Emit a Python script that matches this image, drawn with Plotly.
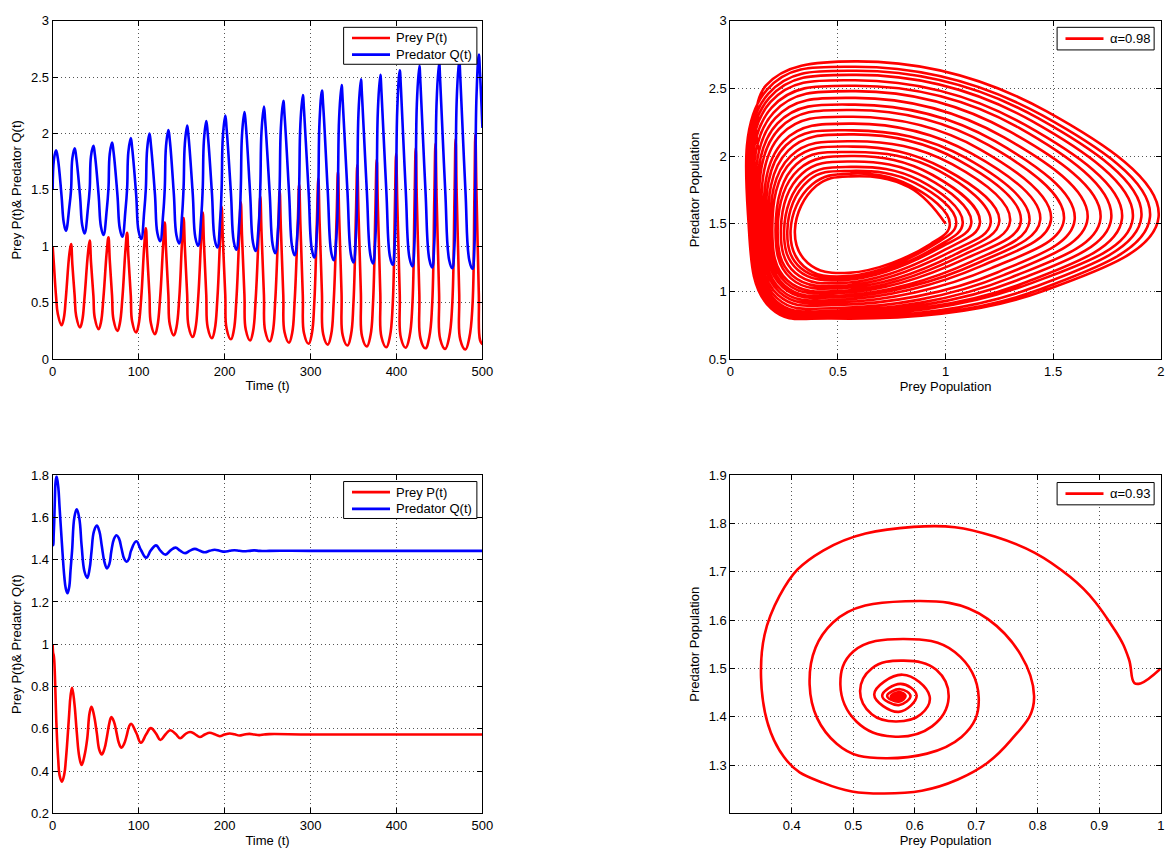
import plotly.graph_objects as go

# ---------------------------------------------------------------------------
# alpha = 0.98 : sustained (slowly growing) prey-predator oscillations.
# Each cycle is described by eight characteristic states, in time order:
# prey peak, NE shoulder, predator peak, NW shoulder, prey trough,
# SW corner, predator trough, SE shoulder.
# ---------------------------------------------------------------------------
t_prey_peak = [0.0, 21.4, 43.1, 64.9, 86.6, 108.4, 130.4, 152.3, 174.6, 196.6, 218.9,
               241.6, 264.1, 286.8, 309.1, 331.9, 354.4, 377.0, 399.6, 422.4, 445.4,
               468.8, 491.8]
prey_peak = [1.00, 1.02, 1.05, 1.08, 1.12, 1.16, 1.21, 1.25, 1.30, 1.35, 1.39,
             1.44, 1.49, 1.55, 1.60, 1.66, 1.72, 1.77, 1.82, 1.87, 1.91, 1.95, 1.99]
pred_at_prey_peak = [1.50, 1.50, 1.51, 1.51, 1.51, 1.51, 1.51, 1.52, 1.52, 1.52, 1.52,
                     1.53, 1.53, 1.53, 1.53, 1.54, 1.54, 1.54, 1.54, 1.54, 1.55, 1.55, 1.55]

t_ne = [1.5, 22.9, 44.6, 66.4, 88.1, 109.9, 131.9, 153.8, 176.0, 198.0, 220.3,
        243.0, 265.5, 288.2, 310.5, 333.3, 355.8, 378.4, 401.0, 423.7, 446.7,
        470.1, 493.1]
prey_ne = [0.83, 0.84, 0.86, 0.88, 0.91, 0.94, 0.97, 0.99, 1.03, 1.06, 1.09,
           1.12, 1.16, 1.20, 1.23, 1.27, 1.30, 1.34, 1.37, 1.40, 1.43, 1.45, 1.47]
pred_ne = [1.77, 1.78, 1.80, 1.82, 1.84, 1.86, 1.89, 1.91, 1.94, 1.97, 1.99,
           2.02, 2.05, 2.08, 2.11, 2.14, 2.18, 2.21, 2.23, 2.26, 2.28, 2.30, 2.33]

t_pred_peak = [3.9, 25.6, 47.4, 69.1, 90.9, 112.6, 134.6, 156.5, 178.7, 200.8, 223.1,
               245.8, 268.3, 291.0, 313.3, 336.1, 358.6, 381.2, 403.8, 426.6, 449.6,
               473.0, 495.8]
prey_at_pred_peak = [0.56, 0.56, 0.56, 0.56, 0.56, 0.57, 0.57, 0.57, 0.57, 0.57, 0.57,
                     0.57, 0.57, 0.57, 0.58, 0.58, 0.58, 0.58, 0.58, 0.58, 0.58, 0.58, 0.58]
pred_peak = [1.85, 1.87, 1.89, 1.92, 1.96, 2.00, 2.03, 2.07, 2.11, 2.16, 2.19,
             2.24, 2.29, 2.34, 2.38, 2.43, 2.48, 2.52, 2.56, 2.60, 2.63, 2.66, 2.70]

t_nw = [6.0, 27.4, 49.0, 70.8, 92.5, 114.3, 136.3, 158.1, 180.4, 202.4, 224.7,
        247.3, 269.8, 292.5, 314.8, 337.5, 360.0, 382.6, 405.2, 428.0, 450.9,
        474.3, 497.3]
prey_nw = [0.400, 0.380, 0.364, 0.349, 0.333, 0.317, 0.307, 0.291, 0.280, 0.269, 0.259,
           0.248, 0.237, 0.226, 0.218, 0.209, 0.200, 0.193, 0.187, 0.181, 0.176, 0.170,
           0.165]
pred_nw = [1.78, 1.79, 1.82, 1.84, 1.87, 1.90, 1.94, 1.97, 2.00, 2.04, 2.08,
           2.11, 2.16, 2.20, 2.24, 2.28, 2.32, 2.36, 2.40, 2.43, 2.46, 2.49, 2.52]

t_prey_trough = [10.3, 31.8, 53.5, 75.4, 97.1, 119.0, 141.0, 163.0, 185.3, 207.4, 229.7,
                 252.5, 275.0, 297.8, 320.1, 343.0, 365.5, 388.2, 410.8, 433.7, 456.7, 480.2]
prey_trough = [0.30, 0.28, 0.265, 0.25, 0.235, 0.22, 0.21, 0.195, 0.185, 0.175, 0.165,
               0.155, 0.145, 0.135, 0.128, 0.12, 0.112, 0.105, 0.10, 0.095, 0.09, 0.085]
pred_at_prey_trough = [1.45, 1.45, 1.45, 1.45, 1.46, 1.46, 1.46, 1.46, 1.47, 1.47, 1.47,
                       1.47, 1.48, 1.48, 1.48, 1.48, 1.49, 1.49, 1.49, 1.50, 1.50, 1.50]

t_sw = [12.9, 34.4, 56.2, 78.1, 99.9, 121.8, 144.0, 166.0, 188.5, 210.7, 233.1,
        256.0, 278.6, 301.5, 324.0, 347.0, 369.7, 392.4, 415.2, 438.2, 461.3, 484.8]
prey_sw = [0.360, 0.341, 0.327, 0.314, 0.301, 0.288, 0.280, 0.267, 0.259, 0.252, 0.244,
           0.236, 0.229, 0.222, 0.217, 0.212, 0.206, 0.202, 0.199, 0.196, 0.193, 0.190]
pred_sw = [1.210, 1.186, 1.173, 1.158, 1.137, 1.117, 1.098, 1.078, 1.063, 1.043, 1.031,
           1.011, 0.993, 0.973, 0.950, 0.930, 0.921, 0.909, 0.895, 0.886, 0.878, 0.873]

t_pred_trough = [15.4, 37.1, 59.1, 81.1, 103.0, 125.0, 147.2, 169.2, 191.6, 213.7, 236.1,
                 258.9, 281.5, 304.4, 326.9, 349.9, 372.7, 395.6, 418.5, 441.5, 464.8, 488.4]
prey_at_pred_trough = [0.55, 0.55, 0.55, 0.54, 0.54, 0.54, 0.53, 0.53, 0.53, 0.52, 0.52,
                       0.51, 0.51, 0.50, 0.50, 0.49, 0.49, 0.48, 0.48, 0.48, 0.47, 0.47]
pred_trough = [1.137, 1.113, 1.100, 1.085, 1.064, 1.044, 1.025, 1.005, 0.990, 0.970, 0.958,
               0.938, 0.920, 0.900, 0.877, 0.857, 0.848, 0.836, 0.822, 0.813, 0.805, 0.800]

t_se = [19.4, 41.1, 63.0, 84.7, 106.5, 128.6, 150.5, 172.8, 194.9, 217.2, 239.9,
        262.5, 285.2, 307.5, 330.4, 352.9, 375.5, 398.2, 421.0, 444.0, 467.5, 490.7]
prey_se = [0.93, 0.94, 0.96, 0.97, 1.00, 1.02, 1.04, 1.07, 1.09, 1.12, 1.15,
           1.17, 1.21, 1.24, 1.27, 1.30, 1.33, 1.36, 1.38, 1.41, 1.43, 1.45]
pred_se = [1.35, 1.34, 1.33, 1.32, 1.31, 1.29, 1.27, 1.26, 1.24, 1.22, 1.21,
           1.19, 1.17, 1.14, 1.12, 1.10, 1.08, 1.06, 1.05, 1.03, 1.01, 1.00]

# state at the end of the run
t_end = [500.0]
prey_end = [0.13]
pred_end = [2.05]

# ---------------------------------------------------------------------------
# alpha = 0.93 : damped oscillations spiralling into the coexistence point
# ---------------------------------------------------------------------------
t_damped = [0.0, 0.3, 0.6, 1.2, 1.8, 2.6, 3.5, 4.6, 6.5, 8.0, 10.7, 13.6, 15.3, 17.2,
            19.2, 20.8, 22.6,
            25.3, 28.0, 31.0, 33.7, 37.0, 40.2, 43.0, 45.2,
            48.0, 51.3, 54.3, 57.1, 60.2, 63.2, 66.0, 68.2,
            71.2, 74.3, 77.2, 80.1, 83.2, 86.2, 88.8, 91.2,
            97.3, 102.7, 108.8, 114.2,
            120.3, 125.3, 131.4, 136.8,
            142.9, 148.3, 154.0, 159.8,
            165.5, 171.3, 177.0, 182.8,
            188.5, 194.3, 200.0, 206.0,
            211.5, 217.3, 223.0, 229.0,
            234.5, 240.3, 246.0, 252.0,
            300.0, 400.0, 500.0]
prey_damped = [1.0, 0.967, 0.957, 0.948, 0.925, 0.852, 0.73, 0.598, 0.451, 0.38, 0.35,
               0.387, 0.451, 0.55, 0.67, 0.756, 0.794,
               0.719, 0.585, 0.467, 0.429, 0.473, 0.553, 0.676, 0.704,
               0.665, 0.582, 0.50, 0.479, 0.505, 0.564, 0.628, 0.655,
               0.635, 0.582, 0.53, 0.511, 0.53, 0.569, 0.61, 0.624,
               0.58, 0.534, 0.574, 0.603,
               0.577, 0.547, 0.574, 0.593,
               0.576, 0.555, 0.574, 0.585,
               0.575, 0.561, 0.573, 0.581,
               0.574, 0.565, 0.573, 0.578,
               0.574, 0.568, 0.573, 0.576,
               0.573, 0.570, 0.573, 0.575,
               0.573, 0.573, 0.573]
pred_damped = [1.5, 1.469, 1.470, 1.52, 1.58, 1.69, 1.773, 1.793, 1.744, 1.65, 1.48,
               1.317, 1.263, 1.241, 1.27, 1.351, 1.443,
               1.602, 1.639, 1.595, 1.466, 1.344, 1.314, 1.358, 1.439,
               1.534, 1.561, 1.535, 1.466, 1.39, 1.359, 1.38, 1.439,
               1.497, 1.516, 1.50, 1.453, 1.405, 1.39, 1.405, 1.443,
               1.487, 1.446, 1.41, 1.444,
               1.468, 1.443, 1.424, 1.443,
               1.457, 1.443, 1.431, 1.443,
               1.451, 1.442, 1.435, 1.442,
               1.447, 1.442, 1.438, 1.442,
               1.445, 1.442, 1.44, 1.442,
               1.444, 1.442, 1.441, 1.442,
               1.442, 1.442, 1.442]

# ---------------------------------------------------------------------------
# assemble the alpha = 0.98 trajectory in time order
# ---------------------------------------------------------------------------
t_osc, prey_osc, pred_osc = [], [], []
n_full = len(t_prey_trough)
for k in range(n_full):
    t_osc += [t_prey_peak[k], t_ne[k], t_pred_peak[k], t_nw[k],
              t_prey_trough[k], t_sw[k], t_pred_trough[k], t_se[k]]
    prey_osc += [prey_peak[k], prey_ne[k], prey_at_pred_peak[k], prey_nw[k],
                 prey_trough[k], prey_sw[k], prey_at_pred_trough[k], prey_se[k]]
    pred_osc += [pred_at_prey_peak[k], pred_ne[k], pred_peak[k], pred_nw[k],
                 pred_at_prey_trough[k], pred_sw[k], pred_trough[k], pred_se[k]]
k = n_full
t_osc += [t_prey_peak[k], t_ne[k], t_pred_peak[k], t_nw[k]] + t_end
prey_osc += [prey_peak[k], prey_ne[k], prey_at_pred_peak[k], prey_nw[k]] + prey_end
pred_osc += [pred_at_prey_peak[k], pred_ne[k], pred_peak[k], pred_nw[k]] + pred_end

RED = "#ff0000"
BLUE = "#0000ff"
LW = 2.6
SMOOTH = 1.2
FONT = "Liberation Sans, Arial, Helvetica, sans-serif"
W, H = 1176, 857


def curve(x, y, name, color, xa, ya):
    return go.Scatter(x=x, y=y, mode="lines", name=name, showlegend=False,
                      line=dict(color=color, width=LW, shape="spline", smoothing=SMOOTH),
                      xaxis=xa, yaxis=ya)


fig = go.Figure()
fig.add_trace(curve(t_osc, prey_osc, "Prey P(t)", RED, "x", "y"))
fig.add_trace(curve(t_osc, pred_osc, "Predator Q(t)", BLUE, "x", "y"))
fig.add_trace(curve(prey_osc, pred_osc, "\u03b1=0.98", RED, "x2", "y2"))
fig.add_trace(curve(t_damped, prey_damped, "Prey P(t)", RED, "x3", "y3"))
fig.add_trace(curve(t_damped, pred_damped, "Predator Q(t)", BLUE, "x3", "y3"))
fig.add_trace(curve(prey_damped, pred_damped, "\u03b1=0.93", RED, "x4", "y4"))


def axis_style(**kw):
    base = dict(showline=True, mirror="ticks", linecolor="black", linewidth=1,
                ticks="inside", ticklen=5, tickwidth=1, tickcolor="black",
                showgrid=True, gridcolor="#555555", griddash="1px,3px", gridwidth=1,
                zeroline=False, tickfont=dict(family=FONT, size=13, color="black"),
                title_font=dict(family=FONT, size=13, color="black"))
    base.update(kw)
    return base


left_dom = [49.3 / W, 484.6 / W]
right_dom = [735.7 / W, 1171.7 / W]
top_dom = [1 - 358.3 / H, 1 - 14.0 / H]
bot_dom = [1 - 820.7 / H, 1 - 476.5 / H]

# legend boxes (MATLAB style): drawn as a bordered box with line samples and labels
shapes, annotations = [], []


def px(x):
    return x / W


def py(y):
    return 1 - y / H


def legend_box(x0, x1, y0, y1, entries):
    shapes.append(dict(type="rect", xref="paper", yref="paper",
                       x0=px(x0), x1=px(x1), y0=py(y1), y1=py(y0),
                       line=dict(color="black", width=1), fillcolor="white", layer="above"))
    for (label, color, yc) in entries:
        shapes.append(dict(type="line", xref="paper", yref="paper",
                           x0=px(x0 + 8.5), x1=px(x0 + 47), y0=py(yc), y1=py(yc),
                           line=dict(color=color, width=LW), layer="above"))
        annotations.append(dict(text=label, xref="paper", yref="paper",
                                x=px(x0 + 51.5), y=py(yc), xanchor="left", yanchor="middle",
                                showarrow=False,
                                font=dict(family=FONT, size=13, color="black")))


legend_box(344, 479, 20.7, 58.3, [("Prey P(t)", RED, 31.5), ("Predator Q(t)", BLUE, 48.5)])
legend_box(1066.7, 1165, 20.7, 43.7, [("\u03b1=0.98", RED, 32.2)])
legend_box(344, 479, 483, 520.6, [("Prey P(t)", RED, 493.8), ("Predator Q(t)", BLUE, 510.8)])
legend_box(1066.7, 1165, 484, 506.7, [("\u03b1=0.93", RED, 495.3)])

fig.update_layout(
    width=W, height=H,
    margin=dict(l=0, r=0, t=0, b=0),
    paper_bgcolor="white", plot_bgcolor="white",
    font=dict(family=FONT, size=13, color="black"),
    showlegend=False,
    xaxis=axis_style(domain=left_dom, anchor="y", range=[0, 500], dtick=100,
                     title=dict(text="Time (t)", standoff=3)),
    yaxis=axis_style(domain=top_dom, anchor="x", range=[0, 3], dtick=0.5,
                     title=dict(text="Prey P(t)& Predator Q(t)", standoff=6)),
    xaxis2=axis_style(domain=right_dom, anchor="y2", range=[0, 2], dtick=0.5,
                      title=dict(text="Prey Population", standoff=3)),
    yaxis2=axis_style(domain=top_dom, anchor="x2", range=[0.5, 3], dtick=0.5,
                      title=dict(text="Predator Population", standoff=6)),
    xaxis3=axis_style(domain=left_dom, anchor="y3", range=[0, 500], dtick=100,
                      title=dict(text="Time (t)", standoff=3)),
    yaxis3=axis_style(domain=bot_dom, anchor="x3", range=[0.2, 1.8], dtick=0.2,
                      title=dict(text="Prey P(t)& Predator Q(t)", standoff=6)),
    xaxis4=axis_style(domain=right_dom, anchor="y4", range=[0.3, 1.0],
                      tickvals=[0.4, 0.5, 0.6, 0.7, 0.8, 0.9, 1.0],
                      title=dict(text="Prey Population", standoff=3)),
    yaxis4=axis_style(domain=bot_dom, anchor="x4", range=[1.2, 1.9],
                      tickvals=[1.3, 1.4, 1.5, 1.6, 1.7, 1.8, 1.9],
                      title=dict(text="Predator Population", standoff=6)),
    shapes=shapes,
    annotations=annotations,
)

fig.write_html("out.html")
